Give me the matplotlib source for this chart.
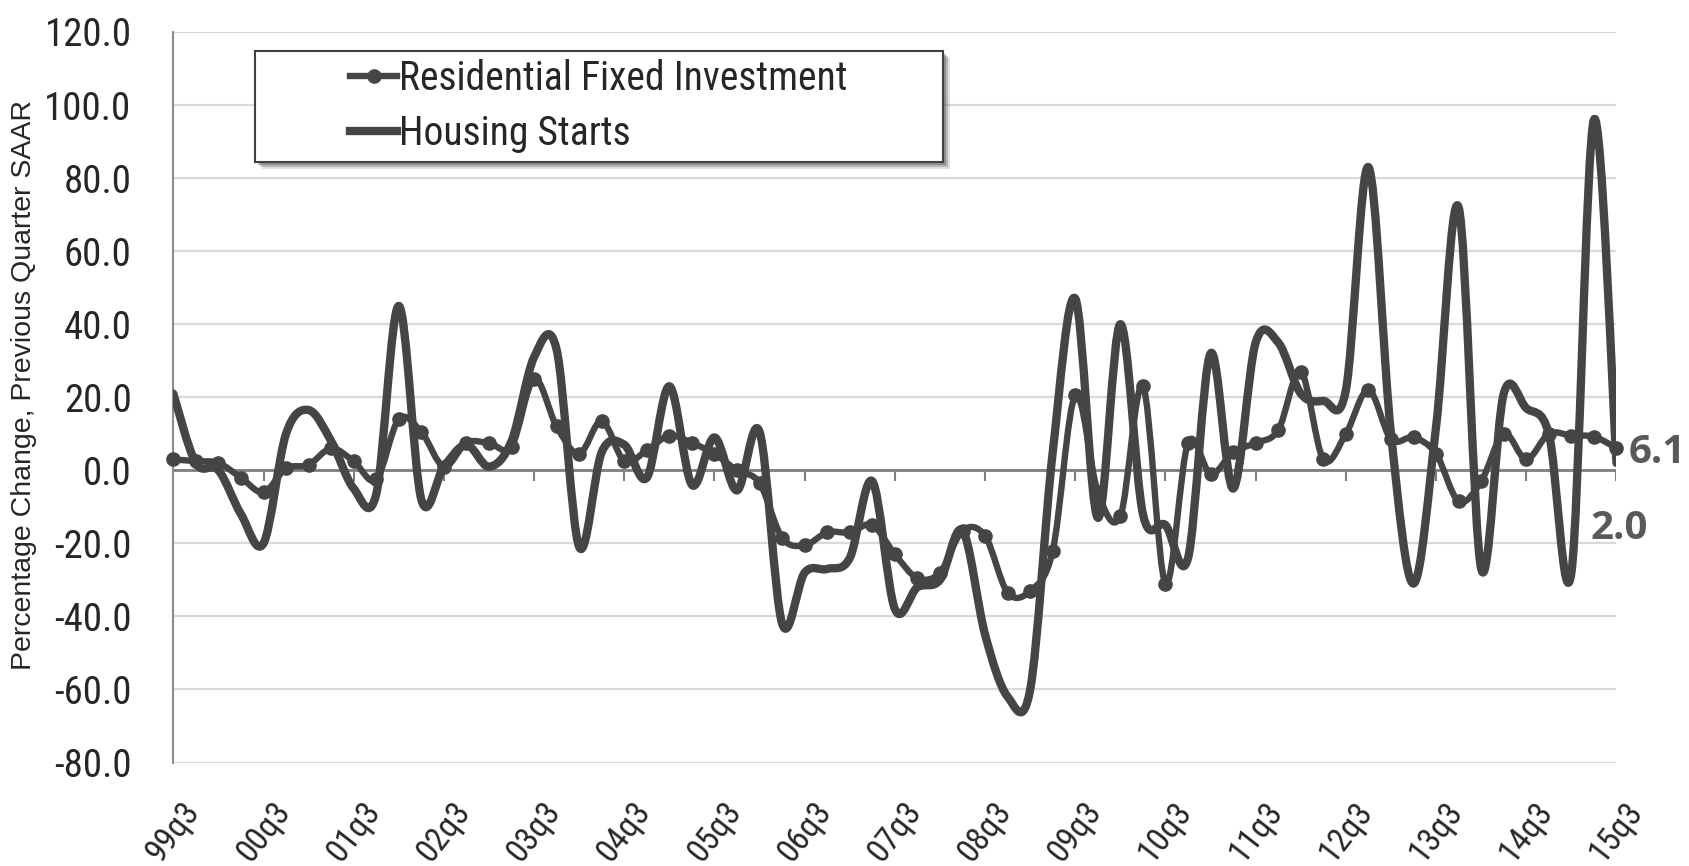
import matplotlib
matplotlib.use("Agg")
import matplotlib.pyplot as plt
from matplotlib import font_manager as fm
from matplotlib.path import Path
from matplotlib.patches import PathPatch, Rectangle
from matplotlib.lines import Line2D
import numpy as np

# ---------------- data ----------------
years = ["99", "00", "01", "02", "03", "04", "05", "06", "07", "08",
         "09", "10", "11", "12", "13", "14", "15"]
tick_labels = [f"{y}q3" for y in years]

residential_fixed_investment = [
    3.0, 2.5, 2.0, -2.0, -6.0, 0.5, 1.5, 6.0, 2.5, -2.5,
    14.0, 10.5, 1.0, 7.5, 7.5, 6.5, 25.0, 12.0, 4.5, 13.5,
    2.5, 5.5, 9.5, 7.5, 4.5, 0.0, -3.5, -18.5, -20.5, -17.0,
    -17.0, -15.0, -23.0, -29.5, -28.0, -16.5, -18.0, -33.5, -33.0, -22.0,
    20.5, -6.0, -12.5, 23.0, -31.0, 7.5, -1.0, 5.0, 7.5, 11.0,
    27.0, 3.0, 10.0, 22.0, 8.5, 9.0, 4.5, -8.5, -3.0, 10.0,
    3.0, 10.0, 9.5, 9.2, 6.1]

housing_starts = [
    21.0, 2.0, 0.0, -12.0, -20.0, 10.0, 16.5, 8.0, -5.0, -6.5,
    45.0, -8.0, 1.0, 7.0, 1.0, 8.0, 31.0, 33.0, -21.0, 5.0,
    7.0, -2.0, 23.0, -4.0, 9.0, -5.5, 10.5, -42.0, -28.0, -27.0,
    -24.0, -3.0, -38.0, -32.0, -30.0, -16.5, -45.0, -62.0, -60.0, 5.0,
    47.0, -13.0, 40.0, -12.0, -15.0, -24.0, 32.0, -5.0, 35.0, 35.0,
    21.0, 19.0, 22.0, 83.0, 10.0, -31.0, 12.0, 72.0, -27.0, 21.0,
    17.0, 10.0, -28.0, 96.0, 2.0]

series_names = ["Residential Fixed Investment", "Housing Starts"]
y_ticks = [-80, -60, -40, -20, 0, 20, 40, 60, 80, 100, 120]

# ---------------- fonts ----------------
def pick(cands):
    for c in cands:
        try:
            fm.findfont(fm.FontProperties(family=c), fallback_to_default=False)
            return c
        except Exception:
            pass
    return "DejaVu Sans"

NARROW = pick(["Liberation Sans Narrow", "Roboto Condensed", "Open Sans Condensed", "Liberation Sans"])
REG = pick(["Liberation Sans", "Open Sans", "DejaVu Sans"])
BOLD = pick(["Open Sans", "Liberation Sans"])

LINE_C = "#454545"
TXT_C = "#262626"

W, H = 1690, 866
fig = plt.figure(figsize=(W / 100, H / 100), dpi=100)

def fx(px):
    return px / W

def fy(py):
    return 1 - py / H

L, R, T, B = 173.3, 1616.5, 32.0, 762.5
ax = fig.add_axes([fx(L), fy(B), fx(R) - fx(L), fy(T) - fy(B)])

n = len(residential_fixed_investment)
x = np.arange(n)


def smooth_path(xs, ys):
    pts = np.column_stack([xs, ys]).astype(float)
    verts = [pts[0]]
    codes = [Path.MOVETO]
    for i in range(len(pts) - 1):
        p0 = pts[i - 1] if i > 0 else pts[i]
        p1 = pts[i]
        p2 = pts[i + 1]
        p3 = pts[i + 2] if i + 2 < len(pts) else pts[i + 1]
        c1 = p1 + (p2 - p0) / 6.0
        c2 = p2 - (p3 - p1) / 6.0
        verts += [c1, c2, p2]
        codes += [Path.CURVE4] * 3
    return Path(verts, codes)


ax.set_xlim(0, n - 1)
ax.set_ylim(-80, 120)
ax.set_yticks(y_ticks)
ax.set_yticklabels([f"{v:.1f}" for v in y_ticks], fontfamily=NARROW, fontsize=28, color=TXT_C)
ax.tick_params(axis="y", length=0, pad=30)
tick_pos = list(range(0, n, 4))
ax.set_xticks(tick_pos)
ax.set_xticklabels(tick_labels, rotation=52, ha="center", va="top",
                   fontfamily=NARROW, fontsize=24, color=TXT_C)
ax.tick_params(axis="x", length=0, pad=24)

ax.grid(axis="y", color="#d9d9d9", lw=1.6, zorder=0)
ax.set_axisbelow(True)
for s in ["top", "right", "bottom"]:
    ax.spines[s].set_visible(False)
ax.spines["left"].set_color("#8c8c8c")
ax.spines["left"].set_linewidth(1.5)

# zero axis line with small ticks
ax.axhline(0, color="#7f7f7f", lw=2.0, zorder=1)
ax.vlines(tick_pos, -3.0, 0, color="#7f7f7f", lw=1.5, zorder=1)

# series
HS_LW, RFI_LW, MS = 6.0, 4.6, 9.5
ax.add_patch(PathPatch(smooth_path(x, housing_starts), fill=False,
                       edgecolor=LINE_C, lw=HS_LW, capstyle="round", joinstyle="round", zorder=3))
ax.add_patch(PathPatch(smooth_path(x, residential_fixed_investment), fill=False,
                       edgecolor=LINE_C, lw=RFI_LW, capstyle="round", joinstyle="round", zorder=4))
ax.plot(x, residential_fixed_investment, "o", color=LINE_C, ms=MS, zorder=5, clip_on=False)

# end labels
ax.annotate(f"{residential_fixed_investment[-1]:.1f}", (x[-1], residential_fixed_investment[-1]),
            xytext=(9, -3), textcoords="offset points", ha="left", va="center",
            fontfamily=BOLD, fontweight="bold", fontsize=29, color="#595959", annotation_clip=False)
ax.annotate(f"{housing_starts[-1]:.1f}", (x[-1], housing_starts[-1]),
            xytext=(-19, -47), textcoords="offset points", ha="left", va="center",
            fontfamily=BOLD, fontweight="bold", fontsize=29, color="#595959", annotation_clip=False)

# y label
fig.text(fx(24), fy(385), "Percentage Change, Previous Quarter SAAR", rotation=90,
         ha="center", va="center", fontfamily=REG, fontsize=20.5, color=TXT_C)

# legend box with shadow
lx0, ly0, lx1, ly1 = 255, 51, 943, 162
for off, a in [(7, 0.18), (5, 0.3), (3, 0.4)]:
    fig.patches.append(Rectangle((fx(lx0 + off), fy(ly1 + off)), fx(lx1) - fx(lx0), fy(ly0) - fy(ly1),
                                 transform=fig.transFigure, facecolor="#555555", edgecolor="none",
                                 alpha=a, zorder=5))
fig.patches.append(Rectangle((fx(lx0), fy(ly1)), fx(lx1) - fx(lx0), fy(ly0) - fy(ly1),
                             transform=fig.transFigure, facecolor="white", edgecolor="#404040",
                             lw=1.5, zorder=6))
handles = [Line2D([], [], color=LINE_C, lw=RFI_LW, marker="o", ms=MS),
           Line2D([], [], color=LINE_C, lw=HS_LW)]
leg = fig.legend(handles, series_names, loc="center left",
                 bbox_to_anchor=(fx(350), fy(106)), frameon=False,
                 prop={"family": NARROW, "size": 28.5}, handlelength=1.2,
                 handletextpad=0.05, labelspacing=0.42, borderpad=0, borderaxespad=0)
leg.set_zorder(7)
for t in leg.get_texts():
    t.set_color(TXT_C)

fig.savefig("out.png", dpi=100)
